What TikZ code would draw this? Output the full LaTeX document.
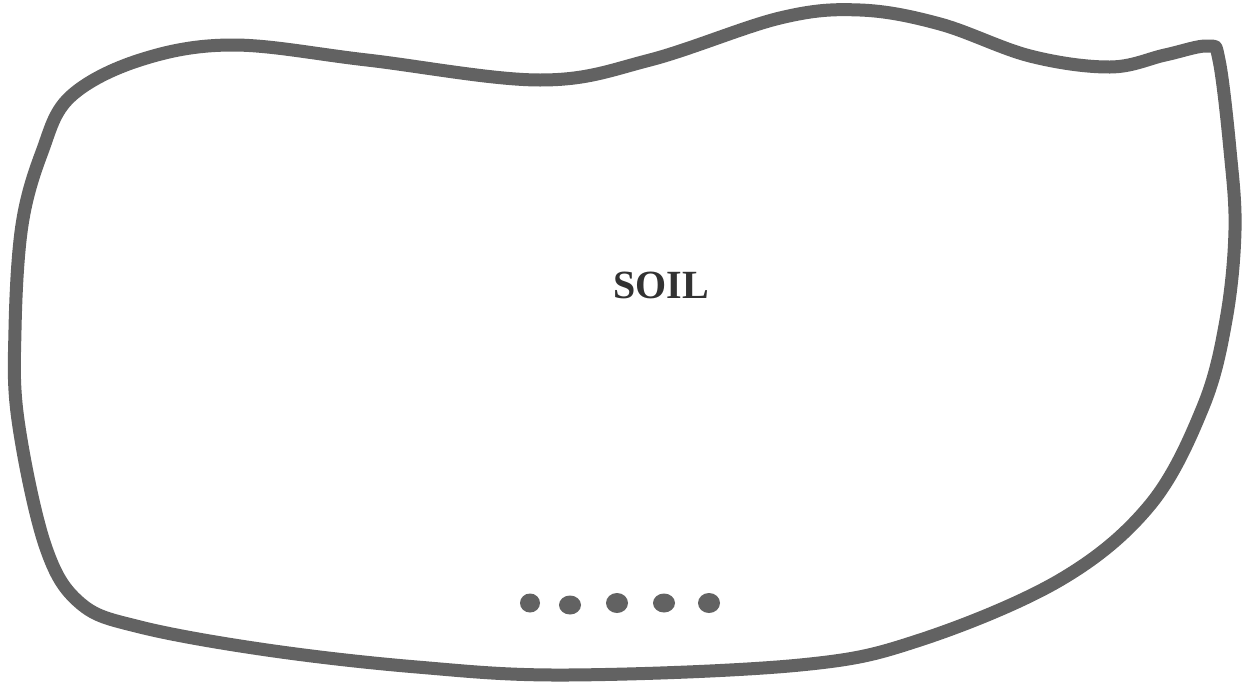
\documentclass[tikz,border=0pt]{standalone}
\usepackage{fontspec}
\setmainfont{Liberation Serif}
\definecolor{outline}{RGB}{98,98,98}
\definecolor{txt}{RGB}{50,50,50}
\begin{document}
\begin{tikzpicture}[x=1pt,y=-1pt,
  blob/.style={draw=outline,line width=13pt,line join=round,line cap=round},
  dot/.style={fill=outline}]
\useasboundingbox (0,0) rectangle (1250,686);
\fill[white] (0,0) rectangle (1250,686);
\draw[blob] plot[smooth cycle,tension=0.6] coordinates {
 (15,330) (22,225) (42,152) (70,97) (140,60) (233,45)
 (367,60) (540,80) (650,60) (780,18) (860,10)
 (940,24) (1030,56) (1110,67) (1165,55) (1208,46) (1219,60)
 (1230,150) (1235,230) (1226,320) (1203,407)
 (1150,505) (1060,580) (920,640) (800,665) (567,675)
 (417,667) (267,650) (140,627) (80,603) (45,545) (18,420)};
\node[text=txt,font=\bfseries\fontsize{40}{48}\selectfont] (soil) at (661,285) {SOIL};
\fill[dot] (530,603) ellipse [x radius=10,y radius=9.5];
\fill[dot] (570,605) ellipse [x radius=11,y radius=9.5];
\fill[dot] (617,603) ellipse [x radius=11,y radius=10];
\fill[dot] (664,603) ellipse [x radius=11,y radius=9.5];
\fill[dot] (709,603) ellipse [x radius=11,y radius=10];
\end{tikzpicture}
\end{document}
